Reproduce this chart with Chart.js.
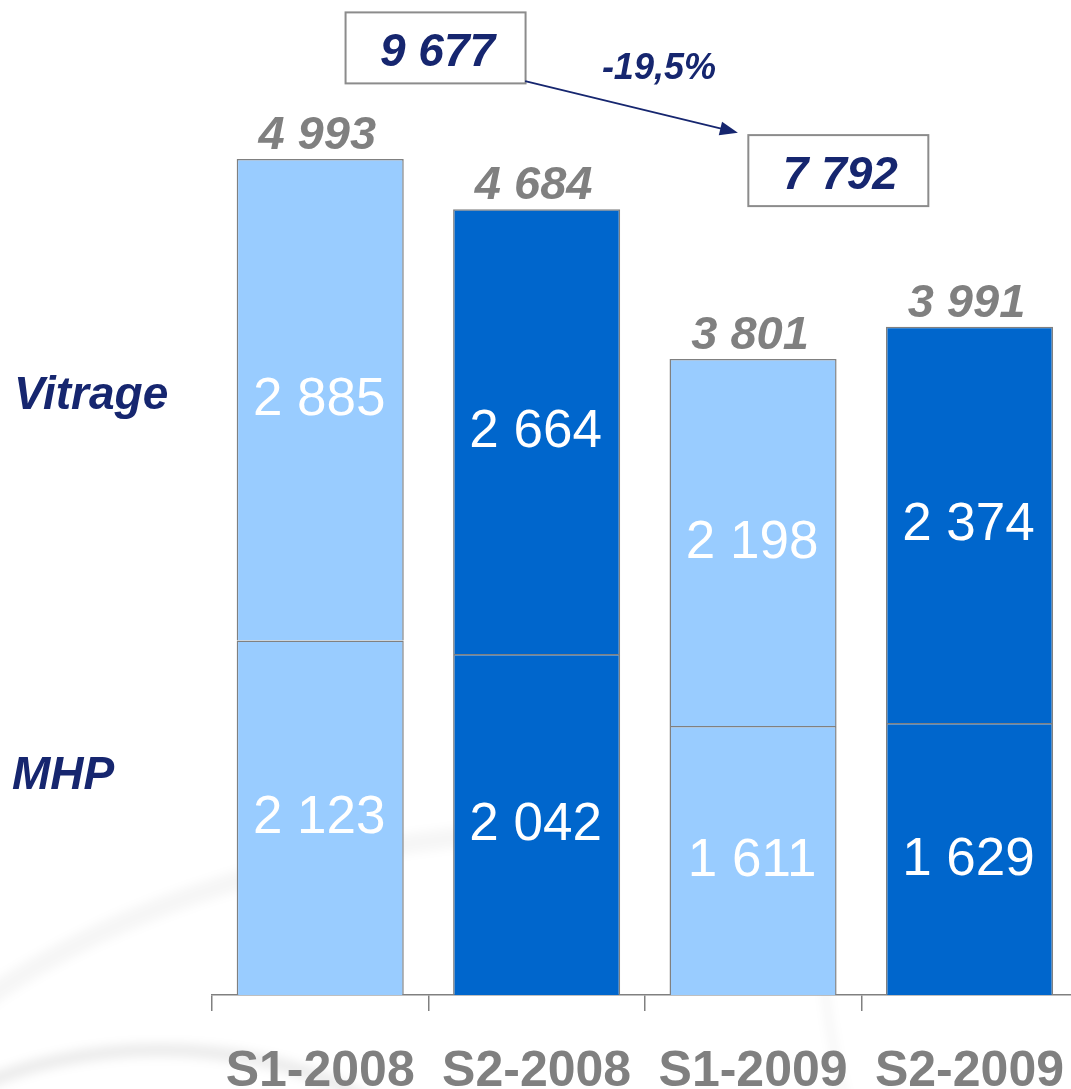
<!DOCTYPE html>
<html>
<head>
<meta charset="utf-8">
<script src="https://cdn.jsdelivr.net/npm/chart.js@4.4.1/dist/chart.umd.min.js"></script>
<style>
html, body { margin: 0; padding: 0; background: #fff; overflow: hidden; }
#wrap { width: 1100px; height: 1089px; }
</style>
</head>
<body>
<div id="wrap"><canvas id="chBar" width="1100" height="1089"></canvas></div>
<script>
"use strict";

const periods = ['S1-2008', 'S2-2008', 'S1-2009', 'S2-2009'];
const mhp = [2123, 2042, 1611, 1629];
const vitrage = [2885, 2664, 2198, 2374];
const totals = ['4 993', '4 684', '3 801', '3 991'];
const yearTotals = ['9 677', '7 792'];
const change = '-19,5%';
const seriesNames = ['Vitrage', 'MHP'];

const FONT = '"Liberation Sans", Arial, sans-serif';
const NAVY = '#16266f';
const GREY = '#808080';
const barColors = ['#99ccff', '#0066cc', '#99ccff', '#0066cc'];

function fmt(n) {
	return n.toString().replace(/\B(?=(\d{3})+(?!\d))/g, ' ');
}

// faint swirl in the background of the slide
const watermark = {
	id: 'watermark',
	beforeDraw(chart) {
		const ctx = chart.ctx;
		ctx.save();
		ctx.filter = 'blur(5px)';
		ctx.strokeStyle = 'rgba(0,0,0,0.07)';
		ctx.lineWidth = 14;
		ctx.beginPath();
		ctx.ellipse(160, 1190, 270, 140, 0, Math.PI, 2 * Math.PI);
		ctx.stroke();
		ctx.strokeStyle = 'rgba(0,0,0,0.035)';
		ctx.lineWidth = 20;
		ctx.beginPath();
		ctx.ellipse(600, 1300, 800, 470, 0, Math.PI, 1.5 * Math.PI);
		ctx.stroke();
		ctx.lineWidth = 8;
		ctx.beginPath();
		ctx.ellipse(1150, 900, 330, 520, 0, 0.6 * Math.PI, 1.05 * Math.PI);
		ctx.stroke();
		ctx.restore();
	}
};

const labels = {
	id: 'labels',
	afterDatasetsDraw(chart) {
		const ctx = chart.ctx;
		const xs = chart.scales.x, ys = chart.scales.y;
		ctx.save();

		// values inside the segments
		ctx.textAlign = 'center';
		ctx.textBaseline = 'middle';
		ctx.fillStyle = '#ffffff';
		ctx.font = '53px ' + FONT;
		chart.data.datasets.forEach((ds, d) => {
			chart.getDatasetMeta(d).data.forEach((bar, i) => {
				ctx.fillText(fmt(ds.data[i]), bar.x - 1, (bar.y + bar.base) / 2 + 1);
			});
		});

		// totals above the bars
		ctx.textBaseline = 'alphabetic';
		ctx.fillStyle = GREY;
		ctx.font = 'italic bold 47px ' + FONT;
		chart.getDatasetMeta(1).data.forEach((bar, i) => {
			ctx.fillText(totals[i], bar.x - 3, bar.y - 10);
		});

		// series names on the left
		ctx.textAlign = 'left';
		ctx.fillStyle = NAVY;
		ctx.font = 'italic bold 46px ' + FONT;
		ctx.fillText(seriesNames[0], 14, ys.getPixelForValue(3510));
		ctx.fillText(seriesNames[1], 12, ys.getPixelForValue(1235));

		// yearly totals in boxes
		const boxes = [[0.533, 5670], [2.394, 4935]];
		ctx.textAlign = 'center';
		ctx.textBaseline = 'middle';
		boxes.forEach((b, i) => {
			const cx = xs.getPixelForValue(b[0]);
			const cy = ys.getPixelForValue(b[1]);
			ctx.fillStyle = '#ffffff';
			ctx.fillRect(cx - 90, cy - 36, 180, 71);
			ctx.strokeStyle = '#8c8c8c';
			ctx.lineWidth = 2;
			ctx.strokeRect(cx - 90, cy - 36, 180, 71);
			ctx.fillStyle = NAVY;
			ctx.font = 'italic bold 46px ' + FONT;
			ctx.fillText(yearTotals[i], cx + 2, cy + 5);
		});

		// arrow with the change
		const x1 = xs.getPixelForValue(0.947), y1 = ys.getPixelForValue(5474);
		const x2 = xs.getPixelForValue(1.93), y2 = ys.getPixelForValue(5165);
		const ang = Math.atan2(y2 - y1, x2 - x1);
		ctx.strokeStyle = NAVY;
		ctx.fillStyle = NAVY;
		ctx.lineWidth = 1.8;
		ctx.beginPath();
		ctx.moveTo(x1, y1);
		ctx.lineTo(x2 - 14 * Math.cos(ang), y2 - 14 * Math.sin(ang));
		ctx.stroke();
		ctx.beginPath();
		ctx.moveTo(x2, y2);
		ctx.lineTo(x2 - 18 * Math.cos(ang) + 7 * Math.sin(ang), y2 - 18 * Math.sin(ang) - 7 * Math.cos(ang));
		ctx.lineTo(x2 - 18 * Math.cos(ang) - 7 * Math.sin(ang), y2 - 18 * Math.sin(ang) + 7 * Math.cos(ang));
		ctx.closePath();
		ctx.fill();
		ctx.font = 'italic bold 36px ' + FONT;
		ctx.fillText(change, xs.getPixelForValue(1.565), ys.getPixelForValue(5545));

		ctx.restore();
	}
};

const chartData = {
	labels: periods,
	datasets: [
		{
			label: seriesNames[1],
			data: mhp,
			backgroundColor: barColors,
			borderColor: GREY,
			borderWidth: 1.5,
			barPercentage: 0.772,
			categoryPercentage: 1
		},
		{
			label: seriesNames[0],
			data: vitrage,
			backgroundColor: barColors,
			borderColor: GREY,
			borderWidth: 1.5,
			barPercentage: 0.772,
			categoryPercentage: 1
		}
	]
};

const chartOptions = {
	responsive: false,
	animation: false,
	devicePixelRatio: 1,
	layout: {padding: {left: 212, right: 0, top: 10, bottom: -44}},
	plugins: {legend: {display: false}, tooltip: {enabled: false}},
	scales: {
		x: {
			stacked: true,
			grid: {drawOnChartArea: false, tickLength: 16, color: GREY, lineWidth: 1.5},
			border: {color: GREY, width: 1.5},
			ticks: {color: GREY, padding: 36, maxRotation: 0, font: {family: FONT, size: 50, weight: 'bold', lineHeight: 1}}
		},
		y: {stacked: true, display: false, min: 0, max: 5900}
	}
};

new Chart(document.getElementById('chBar'), {
	type: 'bar',
	data: chartData,
	options: chartOptions,
	plugins: [watermark, labels]
});
</script>
</body>
</html>
